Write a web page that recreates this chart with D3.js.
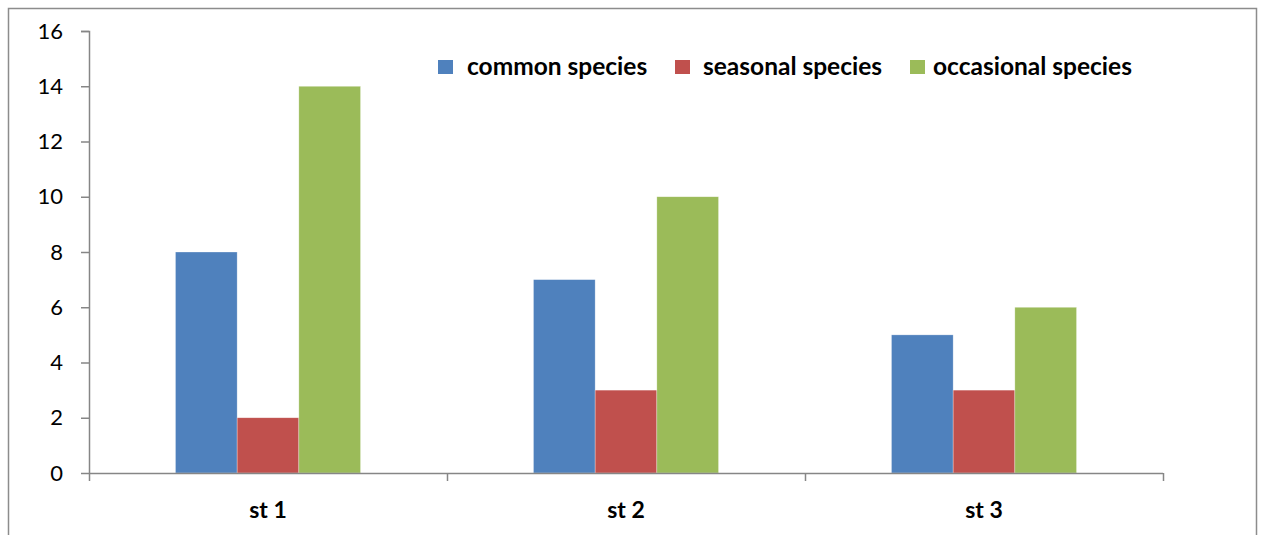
<!DOCTYPE html>
<html>
<head>
<meta charset="utf-8">
<script src="https://cdn.jsdelivr.net/npm/d3@7/dist/d3.min.js"></script>
<style>
  body { margin: 0; background: #fff; }
  text { font-family: Lato, "Open Sans", sans-serif; fill: #000; }
</style>
</head>
<body>
<div id="chart"></div>
<script>
// data
let stations = ["st 1", "st 2", "st 3"];
let seriesNames = ["common species", "seasonal species", "occasional species"];
let commonSpecies = [8, 7, 5];
let seasonalSpecies = [2, 3, 3];
let occasionalSpecies = [14, 10, 6];
let yTicks = [0, 2, 4, 6, 8, 10, 12, 14, 16];
let colors = ["#4f81bd", "#c0504d", "#9bbb59"];

let seriesValues = [commonSpecies, seasonalSpecies, occasionalSpecies];

let W = 1261, H = 535;
let margin = {top: 31, left: 89, right: 98, bottom: 62},
    width = W - margin.left - margin.right,
    height = H - margin.top - margin.bottom;

let root = d3.select("#chart").append("svg")
    .attr("width", W)
    .attr("height", H);

// outer chart frame (bottom edge is cut off in the reference)
root.append("path")
    .attr("d", "M8.5," + H + "V8.5H1256.5V" + H)
    .attr("fill", "none")
    .attr("stroke", "#8c8c8c")
    .attr("stroke-width", 1.5);

let svg = root.append("g")
    .attr("transform", "translate(" + margin.left + "," + margin.top + ")");

let x = d3.scaleBand()
    .domain(stations)
    .range([0, width]);

let xInner = d3.scaleBand()
    .domain(seriesNames)
    .range([0, x.bandwidth() * 0.517]);

let y = d3.scaleLinear()
    .domain([0, 16])
    .range([height, 0]);

// bars
stations.forEach(function (st, i) {
    let off = x(st) + (x.bandwidth() - xInner.range()[1]) / 2;
    svg.append("g")
        .selectAll("rect")
        .data(seriesNames)
        .enter()
        .append("rect")
        .attr("x", function (s) { return off + xInner(s); })
        .attr("width", xInner.bandwidth())
        .attr("y", function (s, j) { return y(seriesValues[j][i]); })
        .attr("height", function (s, j) { return height - y(seriesValues[j][i]); })
        .attr("fill", function (s, j) { return colors[j]; })
        .attr("stroke", "#fff")
        .attr("stroke-opacity", 0.5)
        .attr("stroke-width", 0.6);
});

// y axis
let yAxis = svg.append("g")
    .call(d3.axisLeft(y).tickValues(yTicks).tickSize(8).tickSizeOuter(8).tickFormat(d3.format("d")));
yAxis.select(".domain").attr("stroke", "#868686").attr("stroke-width", 1.5)
    .attr("d", "M-8,0.5H0.5V" + (height + 0.5));
yAxis.selectAll(".tick line").attr("stroke", "#868686").attr("stroke-width", 1.5);
yAxis.selectAll(".tick text")
    .attr("x", -26)
    .style("font-size", "22px")
    .style("font-family", "Lato, 'Open Sans', sans-serif")
    .attr("fill", "#000");

// x axis with ticks at band edges
let xAxis = svg.append("g")
    .attr("transform", "translate(0," + height + ")");
xAxis.append("line")
    .attr("x1", 0).attr("x2", width)
    .attr("y1", 0.5).attr("y2", 0.5)
    .attr("stroke", "#868686").attr("stroke-width", 1.5);
let edges = stations.map(function (s) { return x(s); }).concat([width]);
xAxis.selectAll("line.edge")
    .data(edges)
    .enter()
    .append("line")
    .attr("class", "edge")
    .attr("x1", function (d) { return d + 0.5; })
    .attr("x2", function (d) { return d + 0.5; })
    .attr("y1", 0).attr("y2", 8)
    .attr("stroke", "#868686").attr("stroke-width", 1.5);
xAxis.selectAll("text")
    .data(stations)
    .enter()
    .append("text")
    .attr("x", function (d) { return x(d) + x.bandwidth() / 2; })
    .attr("y", 45)
    .attr("text-anchor", "middle")
    .style("font-size", "23px")
    .style("font-weight", "bold")
    .text(function (d) { return d; });

// legend
let legendX = [438, 675, 910];
let legendTextX = [467, 703, 933];
let legend = root.append("g");
seriesNames.forEach(function (s, j) {
    legend.append("rect")
        .attr("x", legendX[j])
        .attr("y", 60)
        .attr("width", 15)
        .attr("height", 14)
        .attr("fill", colors[j]);
    legend.append("text")
        .attr("x", legendTextX[j])
        .attr("y", 75)
        .style("font-size", "24.5px")
        .style("font-weight", "bold")
        .text(s);
});
</script>
</body>
</html>
